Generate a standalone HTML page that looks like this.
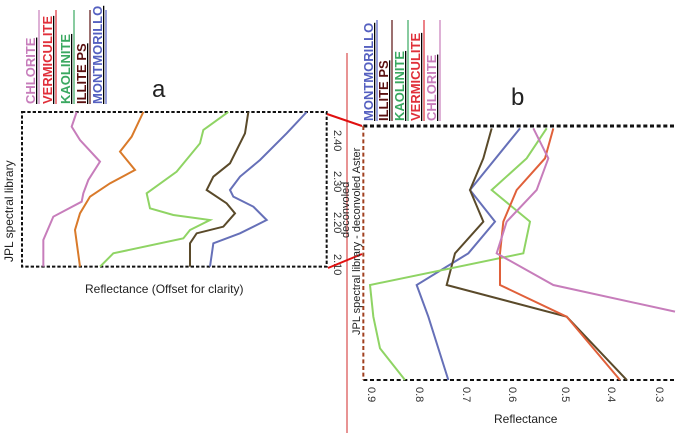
<!DOCTYPE html><html><head><style>body{margin:0;background:#fff}svg{display:block;font-family:"Liberation Sans",sans-serif}</style></head><body>
<svg width="680" height="437" viewBox="0 0 680 437">
<rect width="680" height="437" fill="#fff"/>
<g transform="scale(0.33333)" fill="none" stroke-width="6">
<rect x="66" y="336" width="914" height="464" stroke="#111" stroke-width="6" stroke-dasharray="10 6"/>
<polyline stroke="#c77dbb" points="230,336 215,380 240,420 300,485 265,540 250,580 245,605 160,650 130,720 130,800"/>
<polyline stroke="#d97a2a" points="430,336 395,410 360,455 405,510 330,550 270,590 240,640 225,690 240,800"/>
<polyline stroke="#8fd464" points="685,336 610,390 600,430 530,515 440,580 450,625 520,645 630,660 570,690 550,715 340,760 300,800"/>
<polyline stroke="#5a4a2a" points="745,336 735,400 690,490 640,530 620,570 680,610 705,640 670,680 590,700 570,730 570,800"/>
<polyline stroke="#6670b8" points="920,336 860,400 780,480 720,530 690,570 700,590 760,620 800,660 720,700 640,730 630,800"/>
</g>
<g font-size="11" fill="#333">
<text transform="translate(334,130) rotate(90)">2.40</text>
<text transform="translate(334,171) rotate(90)">2.30</text>
<text transform="translate(334,212) rotate(90)">2.20</text>
<text transform="translate(334,254) rotate(90)">2.10</text>
</g>
<text x="85" y="293" font-size="12" fill="#222">Reflectance (Offset for clarity)</text>
<text transform="translate(13,262) rotate(-90)" font-size="12" fill="#222">JPL spectral library</text>
<text x="152" y="97" font-size="24" fill="#222">a</text>
<g font-size="13" font-weight="bold" text-decoration="underline">
<text transform="translate(35,104) rotate(-90)" fill="#c77dbb">CHLORITE</text>
<text transform="translate(52,104) rotate(-90)" fill="#e0303a">VERMICULITE</text>
<text transform="translate(70,104) rotate(-90)" fill="#3aa860">KAOLINITE</text>
<text transform="translate(86,104) rotate(-90)" fill="#5a1010">ILLITE PS</text>
<text transform="translate(102,104) rotate(-90)" fill="#5560c0">MONTMORILLO</text>
</g>
<g stroke-width="1.2">
<line x1="39" y1="10" x2="39" y2="104" stroke="#c77dbb"/>
<line x1="56" y1="10" x2="56" y2="104" stroke="#e0303a"/>
<line x1="74" y1="10" x2="74" y2="104" stroke="#3aa860"/>
<line x1="90" y1="10" x2="90" y2="104" stroke="#5a1010"/>
<line x1="106" y1="10" x2="106" y2="104" stroke="#5560c0"/>
</g>
<line x1="347" y1="53" x2="347" y2="433" stroke="#e07070" stroke-width="1.5"/>
<line x1="327" y1="114" x2="362" y2="126" stroke="#e01010" stroke-width="2"/>
<line x1="328" y1="268" x2="362" y2="254" stroke="#e01010" stroke-width="2"/>
<g transform="translate(340,0) scale(0.33333)" fill="none" stroke-width="6">
<line x1="70" y1="378" x2="1010" y2="378" stroke="#111" stroke-width="9" stroke-dasharray="12 8"/>
<line x1="70" y1="1140" x2="1010" y2="1140" stroke="#111" stroke-width="6" stroke-dasharray="12 8"/>
<line x1="70" y1="378" x2="70" y2="1140" stroke="#a04020" stroke-width="6" stroke-dasharray="12 8"/>
<polyline stroke="#6670b8" points="540,385 390,570 465,665 385,760 230,855 265,950 325,1140"/>
<polyline stroke="#5a4a2a" points="455,385 430,475 390,570 430,665 345,760 320,855 680,950 860,1140"/>
<polyline stroke="#8fd464" points="620,385 560,475 455,570 570,665 550,760 90,855 100,950 120,1045 195,1140"/>
<polyline stroke="#e0603a" points="640,385 615,475 530,570 490,665 480,760 480,855 680,950 840,1140"/>
<polyline stroke="#c77dbb" points="580,385 625,475 590,570 500,665 470,760 640,855 1005,935"/>
</g>
<g font-size="11" fill="#333">
<text transform="translate(368,387) rotate(90)">0.9</text>
<text transform="translate(416,387) rotate(90)">0.8</text>
<text transform="translate(463,387) rotate(90)">0.7</text>
<text transform="translate(509,387) rotate(90)">0.6</text>
<text transform="translate(562,387) rotate(90)">0.5</text>
<text transform="translate(608,387) rotate(90)">0.4</text>
<text transform="translate(656,387) rotate(90)">0.3</text>
</g>
<text x="494" y="423" font-size="12" fill="#222">Reflectance</text>
<text transform="translate(360,335) rotate(-90)" font-size="11" fill="#222">JPL spectral library - deconvoled Aster</text>
<text transform="translate(349,238) rotate(-90)" font-size="11" fill="#222">deconvoled</text>
<text x="511" y="105" font-size="24" fill="#222">b</text>
<g font-size="13" font-weight="bold" text-decoration="underline">
<text transform="translate(373,121) rotate(-90)" fill="#5560c0">MONTMORILLO</text>
<text transform="translate(388,121) rotate(-90)" fill="#5a1010">ILLITE PS</text>
<text transform="translate(404,121) rotate(-90)" fill="#3aa860">KAOLINITE</text>
<text transform="translate(420,121) rotate(-90)" fill="#e0303a">VERMICULITE</text>
<text transform="translate(436,121) rotate(-90)" fill="#c77dbb">CHLORITE</text>
</g>
<g stroke-width="1.2">
<line x1="377" y1="20" x2="377" y2="121" stroke="#5560c0"/>
<line x1="392" y1="20" x2="392" y2="121" stroke="#5a1010"/>
<line x1="408" y1="20" x2="408" y2="121" stroke="#3aa860"/>
<line x1="424" y1="20" x2="424" y2="121" stroke="#e0303a"/>
<line x1="440" y1="20" x2="440" y2="121" stroke="#c77dbb"/>
</g>
</svg></body></html>
